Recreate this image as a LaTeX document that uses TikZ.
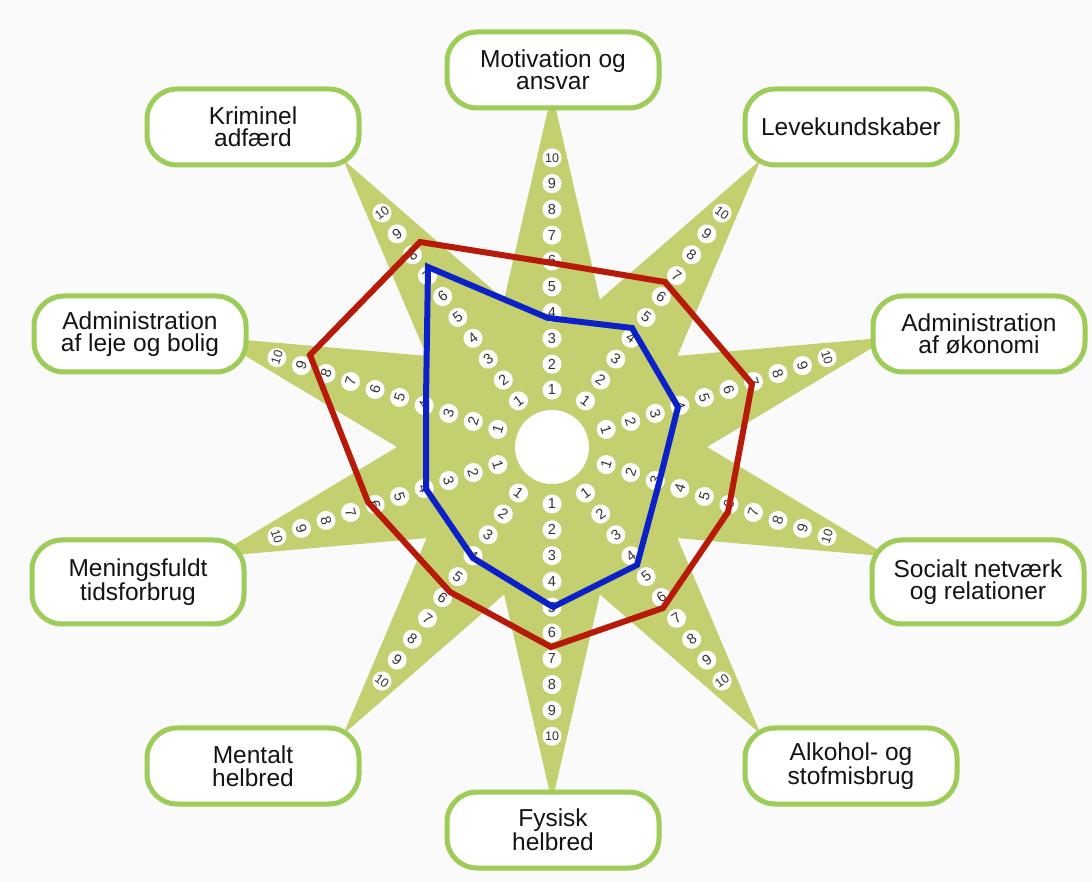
\documentclass[tikz,border=0pt]{standalone}
\usepackage{fontspec}
\setmainfont{Liberation Sans}
\definecolor{starfill}{RGB}{196,208,112}
\definecolor{boxgreen}{RGB}{158,204,88}
\definecolor{redline}{RGB}{184,26,10}
\definecolor{blueline}{RGB}{12,32,200}
\definecolor{bgcol}{RGB}{250,250,250}
\begin{document}
\begin{tikzpicture}[x=1pt,y=1pt,
  labelbox/.style={draw=boxgreen, line width=5pt, fill=white, rounded corners=30pt,
    minimum width=212pt, minimum height=76pt, align=center, inner sep=2pt,
    font=\fontsize{24.5}{22.5}\selectfont, text=black!92},
  digit/.style={circle, fill=white, inner sep=0pt, minimum size=19pt,
    font=\fontsize{14.5}{14.5}\selectfont, text=black!80},
  profile/.style={line width=6pt, line join=miter}
]
\fill[bgcol] (0,0) rectangle (1092,881);
\useasboundingbox (0,0) rectangle (1092,881);
\coordinate (C) at (552,434);
% star
\fill[starfill, shift={(552,434)}] (90:355)
  \foreach \k in {0,...,9}{ -- ({72-36*\k}:155) -- ({54-36*\k}:355) } -- cycle;
% hub
\node[circle, fill=white, minimum size=74pt, inner sep=0pt] (hub) at (C) {};
% digits
\foreach \k in {0,...,9}{
  \pgfmathsetmacro\ang{90-36*\k}
  \pgfmathsetmacro\rot{ifthenelse(sin(\ang)>0.1, \ang-90, \ang+90)}
  \foreach \v in {1,...,9}{
    \pgfmathsetmacro\rad{57+(\v-1)*25.8}
    \node[digit, rotate=\rot] (d\k-\v) at ([shift={(552,434)}]\ang:\rad) {\v};
  }
  \pgfmathsetmacro\rad{57+9*25.8}
  \node[digit, rotate=\rot, font=\fontsize{12.5}{12.5}\selectfont] (d\k-10) at ([shift={(552,434)}]\ang:\rad) {10};
}
% profiles
\coordinate (r1) at (420,639);
\coordinate (r2) at (552,618);
\coordinate (r3) at (665,599);
\coordinate (r4) at (752,497);
\coordinate (r5) at (728,369);
\coordinate (r6) at (663,273);
\coordinate (r7) at (551,234);
\coordinate (r8) at (450,289);
\coordinate (r9) at (368,379);
\coordinate (r10) at (310,526);
\coordinate (b1) at (428,614);
\coordinate (b2) at (548,563);
\coordinate (b3) at (632,553);
\coordinate (b4) at (678,474);
\coordinate (b5) at (659,398);
\coordinate (b6) at (637,316);
\coordinate (b7) at (553,274);
\coordinate (b8) at (473,323);
\coordinate (b9) at (426,392);
\coordinate (b10) at (426,481);
\draw[profile, redline] (r1) -- (r2) -- (r3) -- (r4) -- (r5) -- (r6) -- (r7) -- (r8) -- (r9) -- (r10) -- cycle;
\draw[profile, blueline] (b1) -- (b2) -- (b3) -- (b4) -- (b5) -- (b6) -- (b7) -- (b8) -- (b9) -- (b10) -- cycle;
% label boxes
\node[labelbox] (motivation) at (553,811) {Motivation og\\ansvar};
\node[labelbox] (leve) at (851,754) {Levekundskaber};
\node[labelbox] (okonomi) at (979,547) {Administration\\af økonomi};
\node[labelbox, minimum height=84pt] (socialt) at (978,299) {Socialt netværk\\og relationer};
\node[labelbox] (alkohol) at (851,115) {Alkohol- og\\stofmisbrug};
\node[labelbox] (fysisk) at (553,51) {Fysisk\\helbred};
\node[labelbox] (mentalt) at (253,115) {Mentalt\\helbred};
\node[labelbox, minimum height=84pt] (menings) at (138,299) {Meningsfuldt\\tidsforbrug};
\node[labelbox] (bolig) at (140,547) {Administration\\af leje og bolig};
\node[labelbox] (kriminel) at (253,754) {Kriminel\\adfærd};
\end{tikzpicture}
\end{document}
